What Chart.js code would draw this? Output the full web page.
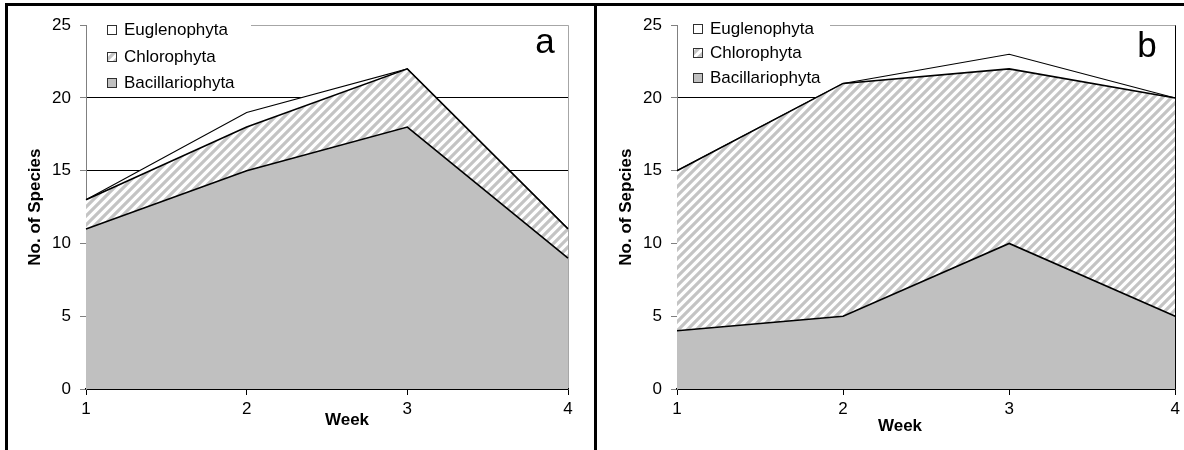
<!DOCTYPE html>
<html>
<head>
<meta charset="utf-8">
<script src="https://cdn.jsdelivr.net/npm/chart.js@4.4.0/dist/chart.umd.min.js"></script>
<style>
  html, body { margin: 0; padding: 0; background: #fff; overflow: hidden; }
  #frame { position: absolute; left: 5px; top: 3px; width: 1300px; height: 500px; border-top: 3px solid #000; border-left: 3px solid #000; }
  #divider { position: absolute; left: 594px; top: 3px; width: 3px; height: 500px; background: #000; }
  canvas { position: absolute; top: 6px; }
  #chart-a { left: 8px; }
  #chart-b { left: 597px; }
</style>
</head>
<body>
<div id="frame"></div>
<div id="divider"></div>
<canvas id="chart-a" width="586" height="444"></canvas>
<canvas id="chart-b" width="587" height="444"></canvas>
<script>
// data (species counts per group, stacked)
const weeks = ['1', '2', '3', '4'];
const bacA = [11, 15, 18, 9];
const chlA = [2, 3, 4, 2];
const eugA = [0, 1, 0, 0];
const bacB = [4, 5, 10, 5];
const chlB = [11, 16, 12, 15];
const eugB = [0, 0, 1, 0];
const yMin = 0;
const yMax = 25;
const yStep = 5;

const family = "'Liberation Sans', Arial, sans-serif";

// diagonal stripes for Chlorophyta
function makeHatch(ctx) {
    const n = 9;
    const tile = document.createElement('canvas');
    tile.width = n;
    tile.height = n;
    const g = tile.getContext('2d');
    g.fillStyle = '#fff';
    g.fillRect(0, 0, n, n);
    g.strokeStyle = '#c4c4c4';
    g.lineWidth = 3.2;
    g.beginPath();
    g.moveTo(-2, n + 2); g.lineTo(n + 2, -2);
    g.moveTo(-2, 2); g.lineTo(2, -2);
    g.moveTo(n - 2, n + 2); g.lineTo(n + 2, n - 2);
    g.stroke();
    return ctx.createPattern(tile, 'repeat');
}

// legend inside the plot, x title and panel letter
const panelExtras = {
    id: 'panelExtras',
    afterDraw(chart, args, o) {
        const ctx = chart.ctx;
        const area = chart.chartArea;
        ctx.save();
        ctx.fillStyle = '#fff';
        ctx.fillRect(area.left + 1, area.top - 1, o.legendRight - area.left - 1, o.legendBottom - area.top + 1);
        const items = chart.data.datasets.slice().reverse();
        items.forEach((ds, i) => {
            const y = o.legendRows[i];
            ctx.fillStyle = ds.backgroundColor;
            ctx.fillRect(o.legendX, y - 4, 10, 10);
            ctx.strokeStyle = '#303030';
            ctx.lineWidth = 1;
            ctx.strokeRect(o.legendX + 0.5, y - 3.5, 9, 9);
            ctx.fillStyle = '#000';
            ctx.font = '17px ' + family;
            ctx.textAlign = 'left';
            ctx.textBaseline = 'middle';
            ctx.fillText(ds.label, o.legendX + 17, y + 1);
        });
        ctx.font = 'bold 17px ' + family;
        ctx.textAlign = 'center';
        ctx.fillText('Week', o.weekX, o.weekY);
        ctx.font = '35px ' + family;
        ctx.textBaseline = 'alphabetic';
        ctx.fillText(o.letter, o.letterX, o.letterY);
        ctx.restore();
    }
};

function makeChart(id, bac, chl, eug, cfg) {
    const ctx = document.getElementById(id).getContext('2d');
    return new Chart(ctx, {
        type: 'line',
        data: {
            labels: weeks,
            datasets: [
                { label: 'Bacillariophyta', data: bac, fill: 'origin', backgroundColor: '#c0c0c0', borderColor: '#000', borderWidth: 1.6 },
                { label: 'Chlorophyta', data: chl, fill: '-1', backgroundColor: makeHatch(ctx), borderColor: '#000', borderWidth: 1.6 },
                { label: 'Euglenophyta', data: eug, fill: '-1', backgroundColor: '#fff', borderColor: '#000', borderWidth: 1.1 }
            ]
        },
        options: {
            responsive: false,
            animation: false,
            devicePixelRatio: 1,
            layout: { padding: { left: 0, top: 18, right: cfg.padRight, bottom: 0 } },
            elements: { point: { radius: 0 }, line: { tension: 0 } },
            plugins: {
                legend: { display: false },
                tooltip: { enabled: false },
                panelExtras: cfg.extras
            },
            scales: {
                x: {
                    ticks: { color: '#000', padding: 4, maxRotation: 0, font: { size: 17, family: family } },
                    grid: {
                        color: c => c.index === weeks.length - 1 ? cfg.rightEdge : 'rgba(0,0,0,0)',
                        tickLength: 6,
                        tickColor: '#000'
                    },
                    border: { color: '#000', width: 1.5 },
                    afterFit: s => { s.height = 61; }
                },
                y: {
                    stacked: true,
                    min: yMin,
                    max: yMax,
                    ticks: { stepSize: yStep, color: '#000', padding: 9, font: { size: 17, family: family } },
                    grid: {
                        color: c => c.tick && c.tick.value === yMax ? '#a6a6a6' : '#000',
                        tickLength: 6,
                        tickColor: '#808080'
                    },
                    border: { color: '#808080' },
                    title: {
                        display: true,
                        text: cfg.yTitle,
                        color: '#000',
                        font: { size: 17, weight: 'bold', family: family },
                        padding: { top: cfg.titlePad, bottom: 0 }
                    },
                    afterFit: s => { s.width = cfg.yWidth; }
                }
            }
        },
        plugins: [panelExtras]
    });
}

makeChart('chart-a', bacA, chlA, eugA, {
    yTitle: 'No. of Species',
    yWidth: 78,
    padRight: 26,
    titlePad: 17,
    rightEdge: '#a6a6a6',
    extras: {
        legendX: 99, legendRows: [23, 50, 76], legendRight: 243, legendBottom: 84,
        weekX: 339, weekY: 414,
        letter: 'a', letterX: 537, letterY: 47
    }
});

makeChart('chart-b', bacB, chlB, eugB, {
    yTitle: 'No. of Sepcies',
    yWidth: 80,
    padRight: 6,
    titlePad: 19,
    rightEdge: '#000',
    extras: {
        legendX: 96, legendRows: [22, 46, 71], legendRight: 233, legendBottom: 80,
        weekX: 303, weekY: 420,
        letter: 'b', letterX: 550, letterY: 51
    }
});
</script>
</body>
</html>
